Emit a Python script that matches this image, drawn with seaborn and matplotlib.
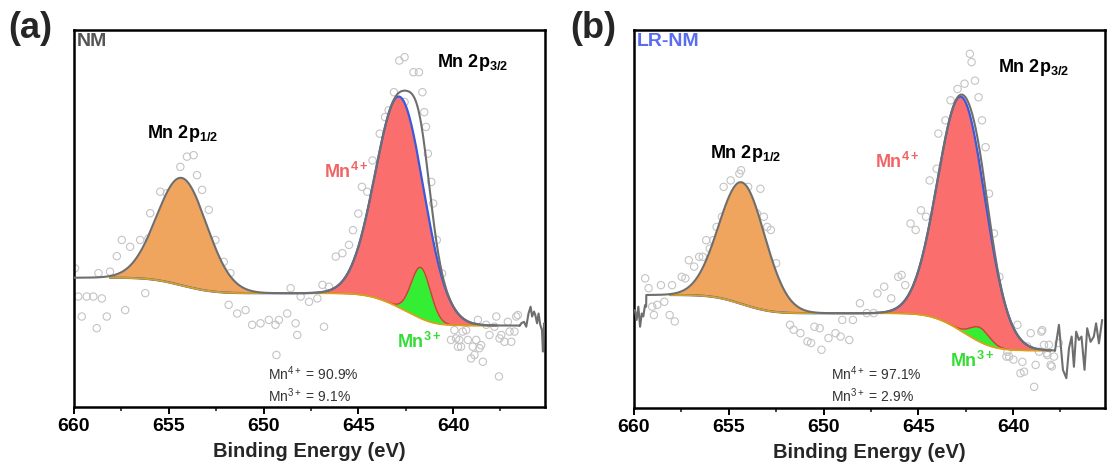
import numpy as np
import pandas as pd
import matplotlib
matplotlib.use("Agg")
import matplotlib.pyplot as plt
from matplotlib.ticker import MultipleLocator
import seaborn as sns

sns.set_theme(style="white")
plt.rcParams["font.family"] = ["Liberation Sans", "DejaVu Sans"]
plt.rcParams["mathtext.fontset"] = "custom"
plt.rcParams["mathtext.rm"] = "Liberation Sans"
plt.rcParams["mathtext.it"] = "Liberation Sans:italic"
plt.rcParams["mathtext.bf"] = "Liberation Sans:bold"

# ---------------- NM : Mn 2p spectrum ----------------
nm_raw_be = [
    659.95, 659.77, 659.59, 659.33, 658.98, 658.80, 658.71, 658.53, 658.27, 658.10,
    657.74, 657.48, 657.30, 657.04, 656.95, 656.51, 656.24, 656.07, 655.98, 655.62,
    655.45, 655.10, 654.39, 654.04, 653.69, 653.51, 653.24, 652.89, 652.54, 652.10,
    651.75, 651.84, 651.39, 650.95, 650.60, 650.16, 649.72, 649.37, 649.19, 648.75,
    648.57, 648.31, 648.22, 648.04, 647.60, 647.16, 646.89, 646.81, 646.55, 646.19,
    645.84, 645.49, 649.32,
    645.28, 645.00, 644.81, 644.53, 644.25, 643.87, 643.59, 643.40, 643.12, 642.84,
    642.56, 642.56, 642.09, 641.80, 641.62, 641.52, 641.43, 641.33, 641.15, 641.05,
    640.86, 640.58, 640.40, 640.11,
    639.93, 639.84, 639.74, 639.67, 639.58, 639.49, 639.31, 639.22, 639.05, 638.96,
    638.87, 638.78, 638.69, 638.61, 638.52, 638.43, 638.25, 638.08, 637.82, 637.72,
    637.58, 637.55, 637.46, 637.29, 637.11, 637.02, 636.93, 636.76, 636.67, 636.58,
]
nm_raw_int = [
    36.8, 29.3, 24.0, 29.3, 29.3, 20.9, 35.5, 28.8, 24.0, 35.9,
    40.0, 44.3, 25.7, 42.5, 35.5, 44.3, 30.2, 44.7, 51.4, 46.9,
    57.1, 56.7, 63.7, 66.4, 66.8, 61.5, 57.6, 52.3, 44.3, 38.5,
    35.5, 27.1, 24.8, 25.7, 21.8, 22.2, 23.1, 21.8, 23.1, 24.8,
    31.5, 22.2, 19.1, 29.3, 27.9, 28.8, 32.4, 21.3, 31.9, 39.9,
    40.8, 43.0, 13.8,
    46.9, 51.3, 58.4, 57.1, 65.4, 72.5, 76.9, 78.7, 83.5, 91.9,
    92.8, 80.9, 88.8, 88.8, 83.5, 78.2, 74.3, 67.2, 59.7, 54.0,
    44.3, 35.4, 24.9, 17.8,
    20.4, 18.2, 16.0, 17.8, 16.0, 20.0, 20.4, 17.8, 12.9, 16.0,
    13.8, 17.8, 23.1, 15.6, 16.4, 12.0, 21.8, 19.1, 21.3, 24.0,
    8.1, 18.2, 19.1, 17.3, 22.6, 20.0, 17.3, 20.0, 24.0, 24.4,
]
# unfitted edge of the recorded spectrum
nm_edge_be = [636.49, 636.40, 636.26, 636.14, 636.02, 635.91, 635.83, 635.73,
              635.66, 635.57, 635.49, 635.40, 635.31, 635.26, 635.20]
nm_edge_int = [21.5, 22.2, 22.6, 21.3, 24.8, 26.6, 24.0, 25.3,
               24.4, 22.2, 24.8, 21.8, 20.4, 14.7, 22.2]
# fitted components: Mn 2p1/2, Mn4+ (2p3/2), Mn3+ (2p3/2)
nm_center = [654.3, 642.8, 641.7]
nm_height = [28.5, 56.0, 13.5]
nm_fwhm = [3.1, 3.0, 1.2]
nm_bg_level = [21.6, 34.3]          # low-BE end, high-BE end
nm_fit_window = [636.5, 660.0]
nm_comp_window = [637.7, 658.1]
nm_ratio = ["90.9%", "9.1%"]

# ---------------- LR-NM : Mn 2p spectrum ----------------
lr_raw_be = [
    659.41, 659.23, 659.04, 658.95, 658.77, 658.58, 658.40, 658.12, 657.99, 657.85,
    657.48, 657.29, 657.11, 656.83, 656.56, 656.37, 656.19, 656.00, 655.82, 655.64,
    655.36, 655.27, 654.90, 654.44, 654.35, 653.98, 653.52, 653.33, 653.15, 652.97,
    652.78, 652.50, 652.14, 651.77, 651.58, 651.22, 650.85, 650.66, 650.48, 650.20,
    650.11, 649.74, 649.37, 649.10, 649.01, 648.64, 648.45, 648.08, 647.72, 647.35,
    647.16, 646.80, 646.43, 646.06, 645.88, 645.69, 645.41, 645.14, 644.86, 644.59,
    644.40, 644.03, 643.94, 643.57, 643.30, 642.93, 642.56, 642.28, 642.19, 642.01,
    641.82, 641.64, 641.45, 641.27, 641.01, 640.72, 640.35, 640.30, 640.21, 639.98,
    639.77, 639.61, 639.51, 639.42, 639.25, 639.07, 638.89, 638.81, 638.63, 638.51,
    638.46, 638.37, 638.23, 638.19, 638.11, 638.02, 637.96, 637.84, 637.59,
]
lr_raw_int = [
    34.3, 31.7, 26.8, 24.6, 27.3, 32.5, 28.1, 24.6, 32.5, 22.9,
    34.7, 34.3, 39.1, 37.4, 40.0, 40.0, 44.4, 42.2, 44.4, 47.9,
    50.6, 58.5, 60.2, 62.0, 62.9, 58.5, 51.5, 58.0, 50.6, 47.9,
    47.1, 38.3, 26.4, 22.0, 20.7, 19.8, 17.6, 17.2, 21.5, 21.1,
    15.4, 18.5, 19.8, 18.9, 23.3, 18.0, 23.3, 27.7, 25.1, 25.1,
    30.3, 32.1, 29.0, 34.7, 35.2, 32.5, 48.8, 47.1, 52.3, 50.6,
    60.2, 63.3, 72.6, 76.1, 81.4, 84.4, 85.8, 93.7, 91.5, 86.6,
    82.2, 76.1, 69.0, 56.7, 46.2, 34.7, 13.6, 14.9, 13.6, 12.8,
    22.0, 9.2, 12.2, 9.6, 16.3, 19.8, 5.6, 11.4, 14.9, 20.2,
    20.6, 16.7, 14.5, 14.0, 16.7, 11.4, 11.0, 13.6, 17.2,
]
lr_head_be = [659.95, 659.86, 659.77, 659.68, 659.59, 659.51, 659.42, 659.36]
lr_head_int = [25.9, 23.3, 26.8, 21.5, 25.0, 24.2, 27.2, 26.8]
lr_edge_be = [637.79, 637.58, 637.37, 637.19, 637.05, 636.91, 636.79, 636.67, 636.53,
              636.39, 636.23, 636.09, 635.91, 635.74, 635.62, 635.47, 635.30]
lr_edge_int = [15.1, 22.0, 10.1, 7.9, 15.8, 18.9, 10.9, 20.2, 18.0,
               18.9, 10.1, 21.1, 17.5, 18.9, 22.4, 17.1, 23.3]
lr_center = [654.3, 642.7, 641.75]
lr_height = [32.2, 62.0, 3.8]
lr_fwhm = [2.85, 2.95, 1.2]
lr_bg_level = [15.2, 29.9]
lr_fit_window = [637.8, 659.35]
lr_comp_window = [638.0, 658.1]
lr_ratio = ["97.1%", "2.9%"]

C_ORANGE = "#F0A55F"
C_RED = "#FA6E6E"
C_GREEN = "#33EE33"
C_BLUE = "#3A5BD9"
C_BG = "#D9A21B"
C_ENV = "#6E6E6E"
C_PT = "#C4C4C4"


def gauss(e, c, h, w):
    return h * np.exp(-4.0 * np.log(2.0) * ((e - c) / w) ** 2)


def build_fit(center, height, fwhm, bg_level, window):
    e = np.linspace(window[0], window[1], 1200)
    comps = [gauss(e, c, h, w) for c, h, w in zip(center, height, fwhm)]
    total = np.sum(comps, axis=0)
    # Shirley-type background: step proportional to the integrated peak area
    cum = np.concatenate([[0.0], np.cumsum(0.5 * (total[1:] + total[:-1]) * np.diff(e))])
    bg = bg_level[0] + (bg_level[1] - bg_level[0]) * cum / cum[-1]
    return e, comps, total, bg


def draw_panel(ax, raw_be, raw_int, center, height, fwhm, bg_level, fit_window,
               comp_window, head, edge, name, name_color, ratio, texts):
    e, comps, total, bg = build_fit(center, height, fwhm, bg_level, fit_window)

    raw = pd.DataFrame({"be": raw_be, "counts": raw_int})
    sns.scatterplot(data=raw, x="be", y="counts", ax=ax, marker="o", s=28,
                    facecolor="none", edgecolor=C_PT, linewidth=0.8, zorder=1,
                    legend=False)

    m = (e >= comp_window[0]) & (e <= comp_window[1])
    em, bgm = e[m], bg[m]
    p12, mn4, mn3 = (c[m] for c in comps)
    ax.fill_between(em, bgm, bgm + p12, color=C_ORANGE, lw=0, zorder=2)
    ax.fill_between(em, bgm, bgm + mn4, color=C_RED, lw=0, zorder=3)
    ax.fill_between(em, bgm, bgm + mn3, color=C_GREEN, lw=0, zorder=4)
    ax.plot(em, bgm + mn3, color="#D23C3C", lw=1.0, zorder=5)
    ax.plot(em, bgm + mn4, color=C_BLUE, lw=1.6, zorder=5)
    ax.plot(em, bgm, color=C_BG, lw=1.3, zorder=6)

    # envelope, joined to the unfitted ends of the spectrum
    env_x = list(edge[0]) + list(e) + (list(head[0])[::-1] if head else [])
    env_y = list(edge[1]) + list(bg + total) + (list(head[1])[::-1] if head else [])
    order = np.argsort(env_x)
    env = pd.DataFrame({"be": np.asarray(env_x)[order], "counts": np.asarray(env_y)[order]})
    sns.lineplot(data=env, x="be", y="counts", ax=ax, sort=False, estimator=None,
                 color=C_ENV, lw=1.5, zorder=7)

    ax.set_xlim(660, 635.15)
    ax.set_ylim(0, 100)
    ax.set_xticks([660, 655, 650, 645, 640])
    ax.xaxis.set_minor_locator(MultipleLocator(2.5))
    ax.set_yticks([])
    ax.tick_params(axis="x", which="major", direction="out", length=5, width=1.4,
                   labelsize=14, pad=3, bottom=True, colors="black")
    ax.tick_params(axis="x", which="minor", direction="out", length=3, width=1.2,
                   bottom=True)
    for lbl in ax.get_xticklabels():
        lbl.set_fontweight("bold")
    for sp in ax.spines.values():
        sp.set_visible(True)
        sp.set_color("black")
        sp.set_linewidth(1.8)
    ax.set_xlabel("Binding Energy (eV)", fontsize=14.5, fontweight="bold", labelpad=5)
    ax.set_ylabel("")

    ax.text(0.006, 0.992, name, transform=ax.transAxes, ha="left", va="top",
            fontsize=14, fontweight="bold", color=name_color)
    (x32, y32), (x12, y12), (x4, y4), (x3, y3), (xr, yr) = texts
    ax.text(x32, y32, r"Mn 2p$_{\mathbf{3/2}}$", fontsize=13, fontweight="bold",
            ha="left", va="baseline", color="black", zorder=9)
    ax.text(x12, y12, r"Mn 2p$_{\mathbf{1/2}}$", fontsize=13, fontweight="bold",
            ha="left", va="baseline", color="black", zorder=9)
    ax.text(x4, y4, r"Mn$^{\mathbf{4+}}$", fontsize=13, fontweight="bold",
            ha="left", va="baseline", color="#F26464", zorder=9)
    ax.text(x3, y3, r"Mn$^{\mathbf{3+}}$", fontsize=13, fontweight="bold",
            ha="left", va="baseline", color="#33DD33", zorder=9)
    ax.text(xr, yr, "Mn$^{4+}$ = " + ratio[0], fontsize=10, ha="left",
            va="baseline", color="#333333", zorder=9)
    ax.text(xr, yr - 5.9, "Mn$^{3+}$ = " + ratio[1], fontsize=10, ha="left",
            va="baseline", color="#333333", zorder=9)


W, H = 1108, 472
fig = plt.figure(figsize=(W / 100, H / 100), dpi=100)
ax_a = fig.add_axes([74 / W, 65 / H, 471 / W, 377 / H])
ax_b = fig.add_axes([634 / W, 64 / H, 471 / W, 378 / H])

draw_panel(ax_a, nm_raw_be, nm_raw_int, nm_center, nm_height, nm_fwhm, nm_bg_level,
           nm_fit_window, nm_comp_window, None, (nm_edge_be, nm_edge_int),
           "NM", "#555555", nm_ratio,
           [(640.85, 90.2), (656.14, 71.4), (646.83, 60.7), (642.96, 15.6), (649.79, 7.2)])
draw_panel(ax_b, lr_raw_be, lr_raw_int, lr_center, lr_height, lr_fwhm, lr_bg_level,
           lr_fit_window, lr_comp_window, (lr_head_be, lr_head_int),
           (lr_edge_be, lr_edge_int), "LR-NM", "#5A6CF0", lr_ratio,
           [(640.79, 88.9), (656.0, 66.1), (647.26, 63.5), (643.32, 10.8), (649.63, 7.4)])

fig.text(8 / W, 1 - 11 / H, "(a)", fontsize=26, fontweight="bold", ha="left", va="top")
fig.text(570 / W, 1 - 11 / H, "(b)", fontsize=26, fontweight="bold", ha="left", va="top")

fig.savefig("out.png", dpi=100, facecolor="white")
